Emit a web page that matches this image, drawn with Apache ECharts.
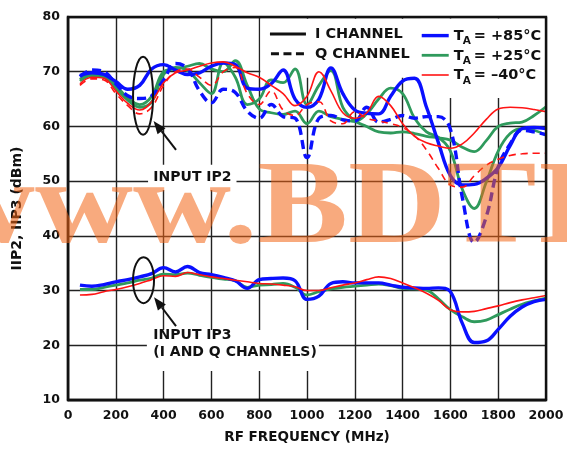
<!DOCTYPE html>
<html>
<head>
<meta charset="utf-8">
<script src="https://cdn.jsdelivr.net/npm/echarts@6/dist/echarts.min.js"></script>
<style>
html,body{margin:0;padding:0;background:#fff;}
#chart{width:567px;height:449px;}
</style>
</head>
<body>
<div id="chart"></div>
<script>
// ---------------- DATA ----------------
const freq = [50,100,150,200,250,300,350,400,450,500,550,600,650,700,750,800,850,900,950,1000,
  1050,1100,1150,1200,1250,1300,1350,1400,1450,1500,1550,1600,1650,1700,1750,1800,1850,1900,1950,2000];

// IIP2, I channel (solid) and Q channel (dashed)
const iip2_I_85 = [69.3,69.8,69.5,68.2,66.8,67.5,70.5,71.3,70.3,69.5,69.8,71.0,71.6,71.3,67.0,66.8,67.8,70.3,65.0,63.5,
  65.0,70.7,66.0,63.0,62.4,62.3,65.5,68.3,68.8,63.5,57.0,51.0,49.3,49.4,50.5,52.5,56.5,59.6,59.8,59.6];
const iip2_Q_85 = [69.1,70.3,70.0,67.8,65.6,65.1,65.6,68.5,71.5,70.6,66.5,64.3,66.8,66.2,62.8,61.5,64.0,61.8,61.5,54.3,
  61.5,62.0,61.2,61.0,63.5,60.8,61.3,62.0,61.5,61.8,61.8,59.5,47.0,38.8,43.5,52.6,56.8,59.3,59.0,58.5];
const iip2_I_25 = [68.3,69.3,69.0,67.0,64.8,63.5,64.5,69.5,70.8,70.2,68.0,66.0,71.6,69.0,64.0,65.0,68.5,68.0,70.5,64.0,
  67.5,70.2,63.5,61.0,60.0,59.0,58.8,59.0,58.7,58.2,57.9,57.5,56.2,55.4,57.4,60.0,60.6,60.8,62.0,63.6];
const iip2_Q_25 = [68.6,69.6,69.3,67.5,65.2,64.0,65.5,70.0,70.5,71.0,71.5,70.5,70.0,72.0,67.5,63.2,62.5,62.2,62.8,60.5,
  62.8,61.8,61.3,60.9,62.3,65.0,67.0,66.0,61.5,59.0,58.0,55.5,48.5,45.0,49.8,55.5,58.7,59.6,59.3,58.4];
const iip2_I_m40 = [67.8,69.0,68.8,66.5,64.2,63.0,64.5,68.0,69.8,70.3,71.0,71.6,71.8,71.0,69.8,69.0,67.5,66.0,63.8,65.5,
  70.0,66.5,62.5,61.5,62.5,65.5,63.8,60.5,58.2,57.0,56.4,56.0,56.8,58.8,61.3,63.2,63.5,63.4,63.1,62.7];
const iip2_Q_m40 = [67.5,68.7,68.5,66.0,63.8,62.3,63.5,67.5,70.0,70.5,69.0,67.5,70.0,70.8,66.0,64.0,66.5,63.0,62.0,64.0,
  64.5,61.0,60.5,62.7,61.5,61.0,60.5,59.8,58.3,55.7,52.3,49.3,48.9,51.0,52.9,54.0,54.7,55.0,55.1,55.1];

// IIP3 (I and Q channels)
const iip3_85 = [31.0,30.8,31.1,31.6,32.0,32.5,33.1,34.2,33.4,34.4,33.3,32.9,32.4,31.8,30.4,32.0,32.2,32.3,31.8,28.4,
  29.0,31.3,31.6,31.4,31.4,31.4,31.0,30.6,30.5,30.4,30.5,29.8,24.0,20.5,20.8,22.9,25.3,27.0,28.0,28.4];
const iip3_25 = [30.2,30.2,30.6,31.0,31.4,31.9,32.3,33.0,32.9,33.2,32.8,32.4,32.1,31.8,30.6,31.0,31.1,31.3,30.6,29.2,
  29.8,30.3,30.6,30.8,31.0,31.2,30.9,30.4,30.3,30.1,28.5,26.5,25.2,24.3,24.6,25.6,26.6,27.5,28.1,28.6];
const iip3_m40 = [29.2,29.3,29.8,30.2,30.7,31.3,32.0,32.7,32.6,33.3,32.9,32.5,32.2,31.9,31.6,31.3,31.2,31.0,30.7,30.0,
  30.0,30.5,31.0,31.4,32.0,32.5,32.2,31.4,30.5,29.5,28.2,26.5,26.1,26.2,26.7,27.2,27.8,28.3,28.7,29.1];

const xTicks = [0,200,400,600,800,1000,1200,1400,1600,1800,2000];
const yTicks = [10,20,30,40,50,60,70,80];
const xTitle = 'RF FREQUENCY (MHz)';
const yTitle = 'IIP2, IIP3 (dBm)';
const channelLabels = ['I CHANNEL', 'Q CHANNEL'];
const tempLabels = ['+85°C', '+25°C', '\u201340°C'];
const noteIP2 = 'INPUT IP2';
const noteIP3 = ['INPUT IP3', '(I AND Q CHANNELS)'];
const watermark = 'www.BDTI';

// ---------------- STYLE ----------------
const FONT = 'DejaVu Sans';
const BLUE = '#0a10ff', GREEN = '#2f9a5c', RED = '#ff1414';
const styleOf = {
  85: {color: BLUE, width: 3.4},
  25: {color: GREEN, width: 2.8},
  m40: {color: RED, width: 1.6}
};

function zip(xs, ys){ return xs.map((x,i)=>[x, ys[i]]); }

function mk(name, ys, key, dashed, dash){
  const s = styleOf[key];
  return {
    name, type: 'line', data: zip(freq, ys), smooth: 0.4, showSymbol: false, symbol: 'none',
    lineStyle: {color: s.color, width: s.width, type: dashed ? dash : 'solid'},
    z: key === 'm40' ? 5 : (key === '85' ? 4 : 3),
    silent: true, animation: false
  };
}

const series = [
  mk('IIP2 I +25', iip2_I_25, '25', false),
  mk('IIP2 Q +25', iip2_Q_25, '25', false),
  mk('IIP3 +25', iip3_25, '25', false),
  mk('IIP2 I +85', iip2_I_85, '85', false),
  mk('IIP2 Q +85', iip2_Q_85, '85', true, [9,5]),
  mk('IIP3 +85', iip3_85, '85', false),
  mk('IIP2 I -40', iip2_I_m40, 'm40', false),
  mk('IIP2 Q -40', iip2_Q_m40, 'm40', true, [7,5]),
  mk('IIP3 -40', iip3_m40, 'm40', false)
];

const chart = echarts.init(document.getElementById('chart'), null, {renderer: 'canvas'});
const labelStyle = {fontFamily: FONT, fontWeight: 'bold', fontSize: 12.5, color: '#111',
  formatter: v => String(v)};

chart.setOption({
  animation: false,
  backgroundColor: '#fff',
  grid: {left: 68, right: 21, top: 17, bottom: 49, show: false},
  xAxis: {
    type: 'value', min: xTicks[0], max: xTicks[xTicks.length-1], interval: 200,
    name: xTitle, nameLocation: 'middle', nameGap: 30,
    nameTextStyle: {fontFamily: FONT, fontWeight: 'bold', fontSize: 13.5, color: '#111'},
    axisLine: {show: true, onZero: false, lineStyle: {color: '#111', width: 2.4}},
    axisTick: {show: false},
    axisLabel: Object.assign({margin: 9}, labelStyle),
    splitLine: {show: true, lineStyle: {color: '#222', width: 1.4}}
  },
  yAxis: {
    type: 'value', min: yTicks[0], max: yTicks[yTicks.length-1], interval: 10,
    name: yTitle, nameLocation: 'middle', nameGap: 44, nameRotate: 90,
    nameTextStyle: {fontFamily: FONT, fontWeight: 'bold', fontSize: 14, color: '#111'},
    axisLine: {show: true, onZero: false, lineStyle: {color: '#111', width: 2.4}},
    axisTick: {show: false},
    axisLabel: Object.assign({margin: 8}, labelStyle),
    splitLine: {show: true, lineStyle: {color: '#222', width: 1.4}}
  },
  series
});

// ---------------- ANNOTATIONS (positioned through the axes) ----------------
function P(x, y){ return chart.convertToPixel({gridIndex: 0}, [x, y]); }
const tl = P(0, 80), br = P(2000, 10);
const W = br[0]-tl[0], H = br[1]-tl[1];

const g = [];
// plot frame (top/right)
g.push({type: 'rect', z: 10, silent: true,
  shape: {x: tl[0], y: tl[1], width: W, height: H},
  style: {fill: 'none', stroke: '#111', lineWidth: 2.4}});

function whiteBox(x0, y0, x1, y1){
  const a = P(x0, y0), b = P(x1, y1);
  g.push({type: 'rect', z: 1, silent: true,
    shape: {x: a[0], y: a[1], width: b[0]-a[0], height: b[1]-a[1]},
    style: {fill: '#fff'}});
}
// legend & label backgrounds (data-coordinate extents)
whiteBox(805, 79.7, 1995, 68.9);
whiteBox(1475, 79.7, 1995, 65.2);
whiteBox(335, 53.0, 705, 48.4);
whiteBox(330, 22.8, 1050, 15.3);

function text(str, px, opts){
  g.push(Object.assign({type: 'text', z: 12, silent: true, x: px[0], y: px[1],
    style: Object.assign({text: str, fill: '#111', font: 'bold 14px "' + FONT + '"',
      textVerticalAlign: 'middle', textAlign: 'left'}, opts || {})}));
}

// Channel legend
const ch1 = P(845, 76.9), ch2 = P(845, 73.3);
g.push({type: 'line', z: 12, silent: true, shape: {x1: ch1[0], y1: ch1[1], x2: ch1[0]+36, y2: ch1[1]},
  style: {stroke: '#111', lineWidth: 3}});
g.push({type: 'line', z: 12, silent: true, shape: {x1: ch2[0]+1, y1: ch2[1], x2: ch2[0]+36, y2: ch2[1]},
  style: {stroke: '#111', lineWidth: 3, lineDash: [8, 4.5]}});
text(channelLabels[0], [ch1[0]+45, ch1[1]+0.5], {font: 'bold 14.5px "' + FONT + '"'});
text(channelLabels[1], [ch2[0]+45, ch2[1]+0.5], {font: 'bold 14.5px "' + FONT + '"'});

// Temperature legend
const tempColors = [styleOf['85'], styleOf['25'], styleOf['m40']];
const tempY = [76.6, 73.0, 69.4];
tempLabels.forEach((lab, i) => {
  const p = P(1480, tempY[i]);
  g.push({type: 'line', z: 12, silent: true, shape: {x1: p[0], y1: p[1], x2: p[0]+27, y2: p[1]},
    style: {stroke: tempColors[i].color, lineWidth: tempColors[i].width}});
  text('T', [p[0]+32, p[1]+0.5], {font: 'bold 14.5px "' + FONT + '"'});
  text('A', [p[0]+41, p[1]+6], {font: 'bold 10.5px "' + FONT + '"'});
  text('= ' + lab, [p[0]+52, p[1]+0.5], {font: 'bold 14.5px "' + FONT + '"'});
});

// Notes
text(noteIP2, P(357, 50.7), {});
text(noteIP3[0], P(357, 21.9), {});
text(noteIP3[1], P(357, 18.7), {});

// Ellipses and arrows
function ellipse(cx, cy, rxPx, ryPx){
  const c = P(cx, cy);
  g.push({type: 'ellipse', z: 11, silent: true, shape: {cx: c[0], cy: c[1], rx: rxPx, ry: ryPx},
    style: {fill: 'none', stroke: '#111', lineWidth: 2}});
}
ellipse(314, 65.6, 10, 39);
ellipse(316, 31.9, 10.5, 23);

function arrow(x0, y0, x1, y1){
  const a = P(x0, y0), b = P(x1, y1);
  const dx = b[0]-a[0], dy = b[1]-a[1], L = Math.hypot(dx, dy);
  const ux = dx/L, uy = dy/L, hl = 13, hw = 5;
  const bx = b[0]-ux*hl, by = b[1]-uy*hl;
  g.push({type: 'line', z: 11, silent: true, shape: {x1: a[0], y1: a[1], x2: bx, y2: by},
    style: {stroke: '#111', lineWidth: 2}});
  g.push({type: 'polygon', z: 11, silent: true,
    shape: {points: [[b[0], b[1]], [bx - uy*hw, by + ux*hw], [bx + uy*hw, by - ux*hw]]},
    style: {fill: '#111'}});
}
arrow(452, 55.7, 358, 61.0);
arrow(452, 23.5, 360, 28.8);

// Watermark (horizontally stretched serif text)
g.push({type: 'text', z: 50, silent: true, x: -63, y: 271, scaleX: 1.15, scaleY: 1,
  style: {text: watermark, font: 'bold 118px "Liberation Serif"', fill: 'rgba(242,100,20,0.55)',
    textVerticalAlign: 'bottom', textAlign: 'left'}});

chart.setOption({graphic: {elements: g}});
</script>
</body>
</html>
